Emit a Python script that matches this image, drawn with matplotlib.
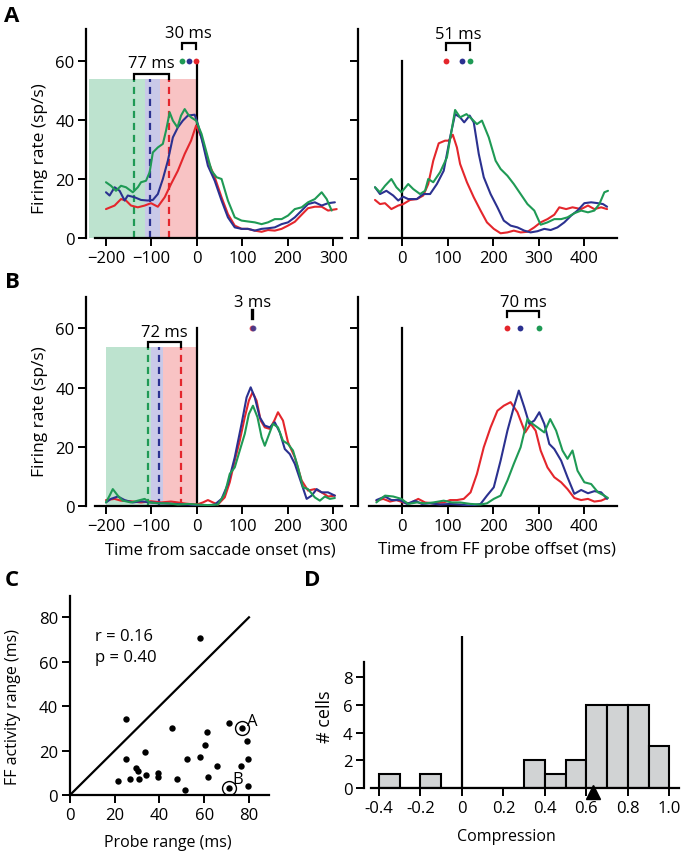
import matplotlib
matplotlib.use("Agg")
import matplotlib.pyplot as plt
from matplotlib.patches import Rectangle

plt.rcParams['font.family'] = ['Open Sans', 'DejaVu Sans']

RED = '#e4262c'
BLUE = '#2b3190'
GREEN = '#1f9a55'
FILL_G = '#bde3cf'
FILL_B = '#c9c9e8'
FILL_R = '#f8c3c4'

# ---------------- Panel A, left (time from saccade onset) ----------------
a1_red_t = [-200, -181, -167, -156, -145, -130, -115, -101, -86, -71, -57, -42, -27, -13, -2, 10, 24, 39, 54,
            68, 83, 98, 112, 127, 142, 156, 171, 186, 200, 215, 230, 244, 259, 274, 288, 307]
a1_red_y = [9.8, 11.0, 13.2, 12.7, 11.0, 10.4, 11.0, 11.8, 10.6, 13.8, 18.3, 22.8, 28.5, 33.0, 38.1, 34.1, 26.2,
            20.6, 13.8, 8.1, 4.2, 3.1, 3.1, 2.5, 2.1, 2.7, 2.5, 3.1, 4.2, 5.5, 7.9, 10.1, 10.6, 10.6, 9.3, 9.8]
a1_grn_t = [-200, -189, -178, -167, -156, -141, -130, -123, -112, -104, -97, -86, -75, -68, -60, -53, -43, -35,
            -27, -20, -13, -2, 10, 21, 32, 43, 54, 68, 83, 98, 112, 127, 142, 156, 171, 186, 200, 215, 230,
            244, 259, 274, 285, 296]
a1_grn_y = [18.9, 17.7, 16.0, 17.7, 17.2, 15.5, 17.2, 18.9, 19.4, 22.3, 29.0, 30.7, 31.9, 36.4, 42.6, 39.8, 37.5,
            41.5, 43.7, 42.0, 40.9, 39.8, 35.3, 29.0, 22.8, 20.6, 20.0, 12.7, 7.0, 5.9, 5.6, 5.3, 4.7, 5.3, 6.4,
            6.4, 7.6, 9.8, 10.4, 12.1, 13.2, 15.5, 13.2, 9.3]
a1_blu_t = [-200, -192, -181, -170, -159, -152, -137, -123, -108, -97, -86, -75, -64, -53, -42, -31, -20, -5, 2,
            13, 24, 39, 54, 68, 83, 98, 112, 127, 142, 156, 171, 186, 200, 215, 230, 244, 259, 274, 288, 303]
a1_blu_y = [15.5, 14.4, 17.2, 16.0, 12.7, 14.4, 13.8, 12.9, 12.7, 12.9, 14.9, 20.0, 26.2, 34.1, 37.5, 39.8, 41.5,
            41.8, 38.6, 31.9, 24.5, 19.4, 12.7, 7.0, 3.6, 3.1, 3.1, 2.5, 3.1, 3.3, 3.6, 4.7, 5.3, 7.0, 9.3, 11.5,
            12.1, 11.0, 11.8, 12.1]

# ---------------- Panel A, right (time from FF probe offset) ----------------
a2_red_t = [-60, -49, -38, -24, -9, 2, 17, 32, 46, 57, 68, 80, 94, 102, 111, 120, 127, 142, 157, 172, 186, 201,
            216, 231, 245, 260, 275, 290, 304, 319, 334, 345, 360, 374, 393, 408, 422, 437, 450]
a2_red_y = [12.9, 11.5, 11.8, 9.8, 11.0, 11.5, 12.9, 13.2, 14.4, 18.3, 26.2, 32.1, 33.0, 33.0, 35.0, 30.7, 25.1,
            18.9, 13.8, 9.3, 5.3, 3.1, 1.6, 1.9, 2.5, 1.9, 2.1, 3.6, 5.3, 6.4, 7.9, 10.4, 9.8, 10.4, 9.8, 11.0,
            9.8, 10.4, 9.8]
a2_grn_t = [-60, -49, -38, -24, -13, -2, 13, 24, 39, 50, 57, 68, 83, 98, 107, 116, 127, 141, 153, 164, 175, 190,
            205, 216, 231, 245, 260, 275, 290, 304, 319, 334, 349, 363, 378, 393, 408, 422, 433, 444, 452]
a2_grn_y = [17.2, 15.5, 17.7, 20.0, 17.2, 15.5, 18.3, 16.6, 14.9, 16.0, 20.0, 18.9, 22.3, 27.3, 35.3, 43.4, 40.9,
            42.0, 40.3, 38.6, 39.8, 34.1, 26.2, 23.4, 21.1, 18.3, 14.9, 11.5, 9.3, 4.5, 5.3, 6.4, 6.4, 7.0, 8.4,
            9.3, 8.7, 9.3, 11.5, 15.5, 16.0]
a2_blu_t = [-60, -49, -35, -20, -9, 2, 13, 32, 46, 61, 76, 91, 105, 116, 127, 136, 148, 157, 168, 179, 194, 209,
            223, 238, 253, 268, 282, 297, 312, 326, 341, 356, 371, 385, 400, 415, 430, 441, 450]
a2_blu_y = [17.2, 14.9, 16.0, 14.4, 12.7, 14.0, 13.2, 13.2, 14.9, 14.9, 18.3, 22.8, 34.1, 42.0, 40.9, 39.2, 41.5,
            39.2, 28.5, 20.6, 14.9, 10.4, 5.9, 4.2, 3.6, 2.5, 1.9, 2.3, 3.1, 2.7, 3.6, 5.3, 7.6, 9.3, 11.8, 12.1,
            11.8, 11.5, 10.6]

# ---------------- Panel B, left ----------------
b1_red_t = [-200, -181, -167, -145, -123, -101, -79, -57, -42, -20, 0, 13, 24, 35, 46, 61, 72, 83, 94, 105, 114,
            122, 131, 140, 149, 160, 170, 178, 189, 200, 215, 230, 244, 259, 274, 288, 303]
b1_red_y = [2.1, 2.5, 1.9, 1.7, 1.3, 1.7, 1.3, 1.6, 1.3, 0.8, 0.6, 1.3, 2.1, 1.3, 0.6, 3.0, 8.1, 15.4, 22.1, 30.0,
            35.6, 38.4, 35.6, 28.9, 26.6, 26.1, 28.9, 31.7, 28.9, 21.6, 16.5, 8.7, 5.3, 5.8, 4.7, 3.3, 3.6]
b1_blu_t = [-200, -189, -174, -159, -141, -123, -101, -79, -49, -20, 0, 24, 39, 54, 68, 83, 98, 109, 118, 127,
            138, 149, 160, 171, 182, 193, 204, 215, 230, 241, 252, 263, 274, 288, 303]
b1_blu_y = [1.3, 2.5, 3.3, 2.1, 1.3, 1.7, 1.3, 1.0, 0.8, 0.6, 0.4, 0.2, 0.6, 2.5, 7.5, 16.5, 27.8, 36.7, 40.1,
            36.7, 30.0, 27.2, 26.6, 28.3, 24.9, 19.3, 17.6, 14.3, 7.5, 2.5, 3.6, 5.8, 4.7, 4.7, 3.6]
b1_grn_t = [-200, -192, -185, -174, -163, -145, -130, -115, -104, -86, -64, -42, -20, 0, 24, 46, 61, 72, 83, 94,
            105, 114, 123, 133, 142, 149, 156, 167, 178, 189, 200, 211, 222, 233, 244, 259, 270, 281, 292, 303]
b1_grn_y = [1.3, 3.6, 5.8, 3.6, 1.9, 1.3, 1.9, 2.5, 1.3, 1.0, 1.0, 0.6, 0.8, 0.6, 0.4, 0.6, 4.2, 10.9, 13.1, 18.8,
            24.4, 31.1, 33.9, 30.0, 23.3, 20.4, 23.3, 27.8, 26.6, 22.1, 21.0, 18.8, 13.1, 6.4, 5.8, 3.0, 1.9, 3.3,
            2.5, 2.8]

# ---------------- Panel B, right ----------------
b2_red_t = [-57, -42, -27, -13, 2, 17, 35, 50, 68, 91, 105, 120, 135, 150, 164, 179, 194, 209, 223, 238, 253,
            270, 282, 293, 304, 319, 334, 349, 363, 378, 393, 408, 422, 437, 450]
b2_red_y = [1.9, 2.5, 1.6, 2.1, 1.3, 1.0, 2.5, 1.3, 1.0, 1.3, 2.1, 2.1, 2.5, 4.7, 10.9, 19.9, 26.6, 32.2, 33.9,
            35.1, 31.7, 24.9, 27.8, 25.5, 18.8, 13.1, 9.8, 8.1, 5.8, 2.8, 2.1, 2.5, 1.6, 1.9, 2.8]
b2_blu_t = [-57, -38, -24, -5, 10, 28, 43, 61, 83, 105, 127, 150, 172, 186, 201, 216, 231, 245, 256, 268, 279,
            290, 301, 312, 323, 334, 349, 363, 378, 393, 408, 422, 437, 450]
b2_blu_y = [2.1, 3.3, 2.1, 2.1, 0.8, 1.9, 0.8, 1.0, 0.6, 0.8, 0.6, 0.2, 0.8, 3.6, 6.4, 15.4, 25.5, 33.4, 39.0,
            33.4, 27.8, 28.9, 31.7, 27.8, 21.0, 19.3, 15.4, 9.8, 4.2, 5.5, 4.4, 5.1, 4.7, 2.5]
b2_grn_t = [-57, -38, -20, -2, 13, 32, 50, 68, 91, 109, 127, 150, 172, 186, 201, 216, 231, 245, 260, 275, 286,
            297, 312, 325, 338, 352, 363, 374, 385, 400, 415, 430, 444, 452]
b2_grn_y = [1.3, 3.6, 3.3, 2.5, 0.8, 1.3, 1.0, 1.3, 1.9, 1.3, 1.3, 0.8, 0.6, 1.0, 2.5, 3.6, 8.7, 14.3, 19.9, 29.4,
            27.8, 26.6, 24.9, 29.4, 25.5, 18.8, 16.0, 18.8, 12.0, 8.1, 7.5, 4.7, 3.6, 2.8]

# probe-time markers (dashed lines / shading) and peak markers
a_probe = {'green': -139, 'blue': -103, 'red': -62}
a_shade = [(-237, -114, FILL_G), (-114, -81, FILL_B), (-81, 0, FILL_R)]
a_peaks_left = {'green': -34, 'blue': -18, 'red': -2}
a_peaks_right = {'red': 97, 'blue': 132, 'green': 148}
b_probe = {'green': -108, 'blue': -84, 'red': -36}
b_shade = [(-200, -100, FILL_G), (-100, -74, FILL_B), (-74, 0, FILL_R)]
b_peaks_left = {'red': 120, 'blue': 123, 'green': 122}
b_peaks_right = {'red': 231, 'blue': 259, 'green': 301}

# ---------------- Panel C ----------------
c_probe = [58.3, 25.0, 25.0, 21.3, 26.8, 29.7, 30.3, 31.0, 33.5, 33.8, 39.3, 39.4, 45.7, 48.0, 51.6, 52.5,
           58.1, 60.4, 61.3, 61.6, 65.9, 71.1, 71.1, 77.0, 76.4, 79.1, 79.7, 79.7]
c_ff = [70.6, 34.2, 16.2, 6.2, 7.2, 12.2, 11.0, 7.2, 19.2, 9.2, 8.3, 10.0, 30.3, 7.2, 2.3, 16.2,
        17.3, 22.4, 28.2, 8.3, 13.2, 32.4, 3.0, 30.3, 13.2, 24.2, 16.2, 4.1]
c_labeled = {'A': (77.0, 30.3), 'B': (71.1, 3.0)}

# ---------------- Panel D ----------------
d_bin_left = [-0.4, -0.3, -0.2, -0.1, 0.0, 0.1, 0.2, 0.3, 0.4, 0.5, 0.6, 0.7, 0.8, 0.9]
d_counts = [1, 0, 1, 0, 0, 0, 0, 2, 1, 2, 6, 6, 6, 3]
d_median = 0.63

W, H = 681, 853
fig = plt.figure(figsize=(W / 100, H / 100), dpi=100)


def ax_px(x0, x1, ytop, ybot):
    return fig.add_axes([x0 / W, 1 - ybot / H, (x1 - x0) / W, (ybot - ytop) / H])


FS = 12
TICK = dict(direction='out', length=6, width=1.4, labelsize=FS, pad=2.5)
LW = 1.6


def style(ax):
    for s in ['top', 'right']:
        ax.spines[s].set_visible(False)
    for s in ['left', 'bottom']:
        ax.spines[s].set_linewidth(LW)
    ax.tick_params(**TICK)
    ax.patch.set_alpha(0)


def bracket(ax, x0, x1, ytop, ylow, label, ytext):
    ax.plot([x0, x0, x1, x1], [ylow, ytop, ytop, ylow], color='black', lw=LW, clip_on=False,
            solid_joinstyle='miter')
    ax.text((x0 + x1) / 2, ytext, label, ha='center', va='center', fontsize=FS)


def time_panel(ax, xlim, xbounds, ylim, curves, xticks, ticklabels_y=True):
    style(ax)
    ax.set_xlim(*xlim)
    ax.set_ylim(*ylim)
    ax.spines['bottom'].set_bounds(*xbounds)
    ax.spines['left'].set_bounds(0, ylim[1])
    ax.set_xticks(xticks)
    ax.set_yticks([0, 20, 40, 60])
    if not ticklabels_y:
        ax.set_yticklabels([])
    ax.plot([0, 0], [0, 60], color='black', lw=LW, zorder=3)
    for t, y, c in curves:
        ax.plot(t, y, color=c, lw=1.5, zorder=4, solid_joinstyle='round', solid_capstyle='round')


cols = {'red': RED, 'blue': BLUE, 'green': GREEN}

# ---- A left
axA1 = ax_px(86.4, 342.6, 239 - 71 * 2.95, 239)
time_panel(axA1, (-243, 320), (-224, 318), (0, 71),
           [(a1_red_t, a1_red_y, RED), (a1_blu_t, a1_blu_y, BLUE), (a1_grn_t, a1_grn_y, GREEN)],
           [-200, -100, 0, 100, 200, 300])
for x0, x1, fc in a_shade:
    axA1.add_patch(Rectangle((x0, 0), x1 - x0, 53.8, facecolor=fc, edgecolor='none', zorder=1))
for k, x in a_probe.items():
    axA1.plot([x, x], [0, 53.8], color=cols[k], lw=1.6, ls=(0, (3.2, 2.2)), zorder=2)
for k, x in a_peaks_left.items():
    axA1.plot(x, 60, 'o', color=cols[k], ms=4.2, mec='none', zorder=5, clip_on=False)
bracket(axA1, a_probe['green'], a_probe['red'], 55.6, 53.8, '77 ms', 59.3)
bracket(axA1, a_peaks_left['green'], a_peaks_left['red'], 66.2, 63.9, '30 ms', 69.6)
axA1.set_ylabel('Firing rate (sp/s)', fontsize=12.5)
axA1.yaxis.set_label_coords(-0.15, 0.43)

# ---- A right
axA2 = ax_px(358.3, 617.1, 239 - 71 * 2.95, 239)
time_panel(axA2, (-96.7, 472), (-73, 472), (0, 71),
           [(a2_red_t, a2_red_y, RED), (a2_blu_t, a2_blu_y, BLUE), (a2_grn_t, a2_grn_y, GREEN)],
           [0, 100, 200, 300, 400], ticklabels_y=False)
for k, x in a_peaks_right.items():
    axA2.plot(x, 60, 'o', color=cols[k], ms=4.2, mec='none', zorder=5, clip_on=False)
bracket(axA2, a_peaks_right['red'], a_peaks_right['green'], 66.0, 63.8, '51 ms', 69.3)

# ---- B left
yb0 = 507.3
axB1 = ax_px(86.4, 342.6, yb0 - 70.5 * 2.967, yb0)
time_panel(axB1, (-243, 320), (-224, 318), (0, 70.5),
           [(b1_red_t, b1_red_y, RED), (b1_blu_t, b1_blu_y, BLUE), (b1_grn_t, b1_grn_y, GREEN)],
           [-200, -100, 0, 100, 200, 300])
for x0, x1, fc in b_shade:
    axB1.add_patch(Rectangle((x0, 0), x1 - x0, 53.6, facecolor=fc, edgecolor='none', zorder=1))
for k, x in b_probe.items():
    axB1.plot([x, x], [0, 53.6], color=cols[k], lw=1.6, ls=(0, (3.2, 2.2)), zorder=2)
axB1.plot(b_peaks_left['red'], 60, 'o', color=RED, ms=4.2, mec='none', zorder=5, alpha=0.8)
axB1.plot(b_peaks_left['blue'], 60, 'o', color=BLUE, ms=4.2, mec='none', zorder=5, alpha=0.8)
bracket(axB1, b_probe['green'], b_probe['red'], 55.5, 53.6, '72 ms', 58.7)
axB1.plot([121.5, 121.5], [63.6, 66.0], color='black', lw=2.4)
axB1.text(121.5, 69.0, '3 ms', ha='center', va='center', fontsize=FS)
axB1.set_ylabel('Firing rate (sp/s)', fontsize=12.5)
axB1.yaxis.set_label_coords(-0.15, 0.457)
axB1.set_xlabel('Time from saccade onset (ms)', fontsize=12)
axB1.xaxis.set_label_coords(0.521, -0.168)

# ---- B right
axB2 = ax_px(358.3, 617.1, yb0 - 70.5 * 2.967, yb0)
time_panel(axB2, (-96.7, 472), (-73, 472), (0, 70.5),
           [(b2_red_t, b2_red_y, RED), (b2_blu_t, b2_blu_y, BLUE), (b2_grn_t, b2_grn_y, GREEN)],
           [0, 100, 200, 300, 400], ticklabels_y=False)
for k, x in b_peaks_right.items():
    axB2.plot(x, 60, 'o', color=cols[k], ms=4.2, mec='none', zorder=5)
bracket(axB2, b_peaks_right['red'], b_peaks_right['green'], 65.9, 63.7, '70 ms', 68.8)
axB2.set_xlabel('Time from FF probe offset (ms)', fontsize=12)
axB2.xaxis.set_label_coords(0.535, -0.168)

# ---- C
axC = ax_px(70, 269.1, 796 - 89.5 * 2.221, 796)
style(axC)
axC.set_xlim(0, 89)
axC.set_ylim(0, 89.5)
axC.set_xticks([0, 20, 40, 60, 80])
axC.set_yticks([0, 20, 40, 60, 80])
axC.plot([0, 80], [0, 80], color='black', lw=LW)
axC.plot(c_probe, c_ff, 'o', color='black', ms=4.6, mec='none', clip_on=False)
for lab, (x, y) in c_labeled.items():
    axC.plot(x, y, 'o', mfc='none', mec='black', ms=10, mew=1.0)
axC.text(c_labeled['A'][0] + 2.2, c_labeled['A'][1] + 3.0, 'A', fontsize=FS, ha='left', va='center')
axC.text(c_labeled['B'][0] + 1.6, c_labeled['B'][1] + 4.2, 'B', fontsize=FS, ha='left', va='center')
axC.text(11, 71.5, 'r = 0.16', fontsize=FS, ha='left', va='center')
axC.text(11, 62, 'p = 0.40', fontsize=FS, ha='left', va='center')
axC.set_xlabel('Probe range (ms)', fontsize=11.5)
axC.xaxis.set_label_coords(0.492, -0.195)
axC.set_ylabel('FF activity range (ms)', fontsize=11.5)
axC.yaxis.set_label_coords(-0.248, 0.449)

# ---- D
axD = ax_px(364.3, 679.7, 789 - 11 * 13.84, 789)
style(axD)
axD.set_xlim(-0.471, 1.05)
axD.set_ylim(0, 11)
axD.spines['bottom'].set_bounds(-0.44, 1.046)
axD.spines['left'].set_bounds(0, 9.1)
axD.bar(d_bin_left, d_counts, width=0.1, align='edge', color='#d1d3d4', edgecolor='black', lw=1.5, zorder=2)
axD.plot([0, 0], [0, 10.9], color='black', lw=LW, zorder=3)
axD.plot(d_median, -0.3, '^', color='black', ms=10, clip_on=False, zorder=5)
axD.set_xticks([-0.4, -0.2, 0, 0.2, 0.4, 0.6, 0.8, 1.0])
axD.set_xticklabels(['-0.4', '-0.2', '0', '0.2', '0.4', '0.6', '0.8', '1.0'])
axD.set_yticks([0, 2, 4, 6, 8])
axD.set_xlabel('Compression', fontsize=11.5)
axD.xaxis.set_label_coords(0.4515, -0.26)
axD.set_ylabel('# cells', fontsize=13)
axD.yaxis.set_label_coords(-0.095, 0.475)

# panel letters
for lab, (x, y) in {'A': (12, 17), 'B': (12, 283), 'C': (12, 580), 'D': (312, 580)}.items():
    fig.text(x / W, 1 - y / H, lab, fontsize=16, fontweight='bold', ha='center', va='center')

fig.savefig('out.png', dpi=100)
